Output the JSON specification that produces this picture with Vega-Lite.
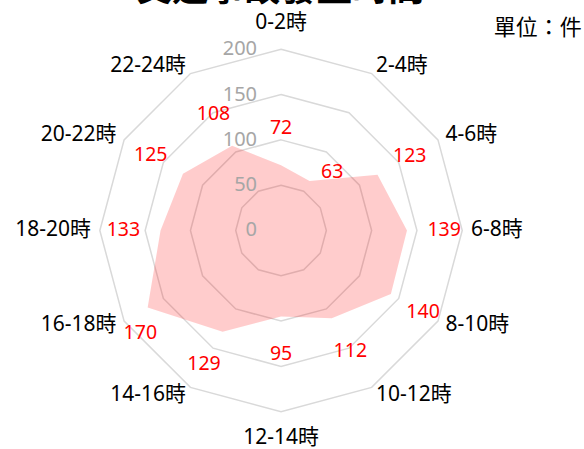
{
  "$schema": "https://vega.github.io/schema/vega-lite/v6.json",
  "width": 584,
  "height": 449,
  "padding": 0,
  "autosize": {"type": "none"},
  "config": {"view": {"stroke": null}},
  "datasets": {
    "counts": [
      {"time": "0-2時", "i": 0, "count": 72},
      {"time": "2-4時", "i": 1, "count": 63},
      {"time": "4-6時", "i": 2, "count": 123},
      {"time": "6-8時", "i": 3, "count": 139},
      {"time": "8-10時", "i": 4, "count": 140},
      {"time": "10-12時", "i": 5, "count": 112},
      {"time": "12-14時", "i": 6, "count": 95},
      {"time": "14-16時", "i": 7, "count": 129},
      {"time": "16-18時", "i": 8, "count": 170},
      {"time": "18-20時", "i": 9, "count": 133},
      {"time": "20-22時", "i": 10, "count": 125},
      {"time": "22-24時", "i": 11, "count": 108}
    ],
    "levels": [
      {"level": 0}, {"level": 50}, {"level": 100}, {"level": 150}, {"level": 200}
    ],
    "spokes": [
      {"i": 0}, {"i": 1}, {"i": 2}, {"i": 3}, {"i": 4}, {"i": 5},
      {"i": 6}, {"i": 7}, {"i": 8}, {"i": 9}, {"i": 10}, {"i": 11}
    ],
    "notes": [
      {"label": "交通事故發生時間", "kind": "title"},
      {"label": "單位：件", "kind": "unit"}
    ]
  },
  "encoding": {
    "x": {"field": "x", "type": "quantitative", "scale": {"domain": [-310.2, 334.4], "nice": false, "zero": false}, "axis": null},
    "y": {"field": "y", "type": "quantitative", "scale": {"domain": [-241.2, 254.4], "nice": false, "zero": false}, "axis": null}
  },
  "layer": [
    {
      "data": {"name": "spokes"},
      "transform": [
        {"calculate": "[50,100,150,200]", "as": "ring"},
        {"flatten": ["ring"]},
        {"calculate": "datum.ring * sin(datum.i * PI / 6)", "as": "x"},
        {"calculate": "datum.ring * cos(datum.i * PI / 6)", "as": "y"}
      ],
      "mark": {"type": "line", "interpolate": "linear-closed", "stroke": "#d9d9d9", "strokeWidth": 1.5},
      "encoding": {
        "detail": {"field": "ring", "type": "nominal"},
        "order": {"field": "i", "type": "quantitative"}
      }
    },
    {
      "data": {"name": "counts"},
      "transform": [
        {"calculate": "datum.count * sin(datum.i * PI / 6)", "as": "x"},
        {"calculate": "datum.count * cos(datum.i * PI / 6)", "as": "y"}
      ],
      "mark": {"type": "line", "interpolate": "linear-closed", "fill": "#ff0000", "fillOpacity": 0.2, "strokeOpacity": 0},
      "encoding": {
        "order": {"field": "i", "type": "quantitative"}
      }
    },
    {
      "data": {"name": "levels"},
      "transform": [
        {"calculate": "-26.5", "as": "x"},
        {"calculate": "datum.level", "as": "y"}
      ],
      "mark": {"type": "text", "align": "right", "baseline": "middle", "fontSize": 20, "font": "Noto Sans", "color": "#a6a6a6"},
      "encoding": {
        "text": {"field": "level", "type": "quantitative"}
      }
    },
    {
      "data": {"name": "counts"},
      "transform": [
        {"calculate": "datum.count + (datum.i == 1 ? 23 : datum.i == 8 ? 22 : 41)", "as": "lr"},
        {"calculate": "(datum.i * 30 + (datum.i == 1 ? 11 : datum.i == 8 ? -6 : 0)) * PI / 180", "as": "ang"},
        {"calculate": "datum.lr * sin(datum.ang)", "as": "x"},
        {"calculate": "datum.lr * cos(datum.ang)", "as": "y"}
      ],
      "mark": {"type": "text", "align": "center", "baseline": "middle", "fontSize": 19.5, "font": "Noto Sans", "color": "#ff0000"},
      "encoding": {"text": {"field": "count", "type": "quantitative"}}
    },
    {
      "data": {"name": "counts"},
      "transform": [
        {"filter": "datum.i >= 1 && datum.i <= 5"},
        {"calculate": "209.7 * sin(datum.i * PI / 6)", "as": "x"},
        {"calculate": "209.7 * cos(datum.i * PI / 6)", "as": "y"}
      ],
      "mark": {"type": "text", "align": "left", "baseline": "middle", "fontSize": 21, "font": "Noto Sans, Noto Sans CJK TC", "color": "#000000"},
      "encoding": {"text": {"field": "time", "type": "nominal"}}
    },
    {
      "data": {"name": "counts"},
      "transform": [
        {"filter": "datum.i >= 7"},
        {"calculate": "209.7 * sin(datum.i * PI / 6)", "as": "x"},
        {"calculate": "209.7 * cos(datum.i * PI / 6)", "as": "y"}
      ],
      "mark": {"type": "text", "align": "right", "baseline": "middle", "fontSize": 21, "font": "Noto Sans, Noto Sans CJK TC", "color": "#000000"},
      "encoding": {"text": {"field": "time", "type": "nominal"}}
    },
    {
      "data": {"name": "counts"},
      "transform": [
        {"filter": "datum.i == 0 || datum.i == 6"},
        {"calculate": "229 * sin(datum.i * PI / 6)", "as": "x"},
        {"calculate": "229 * cos(datum.i * PI / 6)", "as": "y"}
      ],
      "mark": {"type": "text", "align": "center", "baseline": "middle", "fontSize": 21, "font": "Noto Sans, Noto Sans CJK TC", "color": "#000000"},
      "encoding": {"text": {"field": "time", "type": "nominal"}}
    },
    {
      "data": {"name": "notes"},
      "transform": [
        {"filter": "datum.kind == 'title'"},
        {"calculate": "-1", "as": "x"},
        {"calculate": "253.5", "as": "y"}
      ],
      "mark": {"type": "text", "align": "center", "baseline": "alphabetic", "fontSize": 36, "fontWeight": "bold", "font": "Noto Sans CJK TC", "color": "#000000"},
      "encoding": {"text": {"field": "label", "type": "nominal"}}
    },
    {
      "data": {"name": "notes"},
      "transform": [
        {"filter": "datum.kind == 'unit'"},
        {"calculate": "332", "as": "x"},
        {"calculate": "223.5", "as": "y"}
      ],
      "mark": {"type": "text", "align": "right", "baseline": "middle", "fontSize": 22, "font": "Noto Sans CJK TC", "color": "#000000"},
      "encoding": {"text": {"field": "label", "type": "nominal"}}
    }
  ]
}
